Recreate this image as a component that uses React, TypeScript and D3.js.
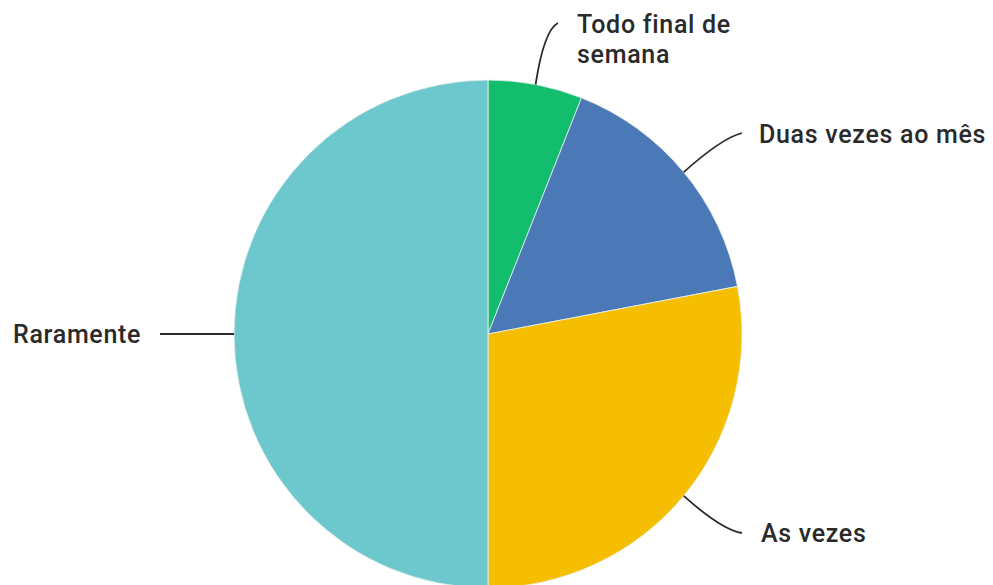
import React from "react";
import * as d3 from "d3";

const categories = ["Todo final de semana", "Duas vezes ao mês", "As vezes", "Raramente"];
const values = [6, 16, 28, 50];
const colors = ["#12BD6E", "#4B79B7", "#F6BE00", "#6DC8CD"];

const W = 993;
const H = 585;
const cx = 488;
const cy = 334;
const R = 254;

const labelLines = [["Todo final de", "semana"], ["Duas vezes ao mês"], ["As vezes"], ["Raramente"]];
const labelPos = [
  { x: 577, y: 33, end: [558, 23], ctrl: [544, 30] },
  { x: 759, y: 143, end: [742, 133], ctrl: [722, 138] },
  { x: 761, y: 542, end: [742, 533], ctrl: [722, 530] },
  { x: 13, y: 343, end: [160, 334], ctrl: [200, 334] },
];

export default function App() {
  const pie = d3.pie<number>().sort(null).value((d) => d);
  const arcs = pie(values);
  const arc = d3.arc<d3.PieArcDatum<number>>().innerRadius(0).outerRadius(R);

  return (
    <svg width={W} height={H} style={{ position: "absolute", left: 0, top: 0, background: "#fff" }}>
      <g transform={`translate(${cx},${cy})`}>
        {arcs.map((a, i) => (
          <path key={categories[i]} d={arc(a) || ""} fill={colors[i]} stroke="#e8f3ef" strokeWidth={0.8} />
        ))}
      </g>
      {arcs.map((a, i) => {
        const mid = (a.startAngle + a.endAngle) / 2;
        const sx = cx + Math.sin(mid) * R;
        const sy = cy - Math.cos(mid) * R;
        const p = labelPos[i];
        const path = d3.path();
        path.moveTo(sx, sy);
        path.quadraticCurveTo(p.ctrl[0], p.ctrl[1], p.end[0], p.end[1]);
        return (
          <g key={i}>
            <path d={path.toString()} fill="none" stroke="#2b2b2b" strokeWidth={1.8} />
            <text
              x={p.x}
              y={p.y}
              fontFamily="Roboto, sans-serif"
              fontSize={25}
              fontWeight={500}
              fill="#2a2a2a"
              letterSpacing={0.7}
            >
              {labelLines[i].map((t, j) => (
                <tspan key={j} x={p.x} dy={j === 0 ? 0 : 30}>
                  {t}
                </tspan>
              ))}
            </text>
          </g>
        );
      })}
    </svg>
  );
}
